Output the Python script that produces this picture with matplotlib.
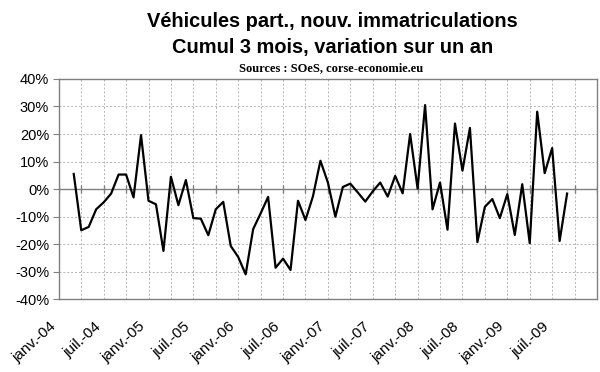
import pandas as pd
import matplotlib
matplotlib.use("Agg")
import matplotlib.pyplot as plt
from matplotlib.ticker import FuncFormatter
from matplotlib.transforms import ScaledTranslation

# variation sur un an (%), cumul 3 mois, de mars 2004 a sept. 2009
start_month = "2004-03"
values = [5.5, -14.9, -13.7, -7.3, -4.8, -1.6, 5.3, 5.3, -3, 19.6,
          -4.2, -5.5, -22.4, 4.5, -5.8, 3.3, -10.5, -10.7, -16.7, -7.3,
          -4.6, -20.6, -24.6, -30.9, -14.5, -8.8, -2.8, -28.5, -25.2, -29.3,
          -4.2, -11.2, -2.6, 10.3, 2.4, -10, 0.8, 2, -1.2, -4.5,
          -0.8, 2.4, -2.7, 4.8, -1.5, 20, 0.2, 30.5, -7.3, 2.4,
          -14.7, 23.8, 6.7, 22.2, -19.2, -6.4, -3.6, -10.5, -1.8, -16.6,
          1.8, -19.6, 28.1, 5.8, 14.9, -18.8, -1.6]

tick_labels = ["janv.-04", "juil.-04", "janv.-05", "juil.-05", "janv.-06", "juil.-06",
               "janv.-07", "juil.-07", "janv.-08", "juil.-08", "janv.-09", "juil.-09"]

title_1 = "Véhicules part., nouv. immatriculations"
title_2 = "Cumul 3 mois, variation sur un an"
source = "Sources : SOeS, corse-economie.eu"


def main():
    periods = pd.period_range(start_month, periods=len(values), freq="M")
    x = [(p.year - 2004) * 12 + p.month - 1 for p in periods]

    plt.rcParams["font.family"] = ["Liberation Sans", "DejaVu Sans"]
    fig = plt.figure(figsize=(6, 3.72), dpi=100)
    ax = fig.add_axes([0.098, 0.195, 0.897, 0.593])

    grid = "#b4b4b4"
    border = "#808080"
    minor = list(range(0, 73, 3))
    for m in minor:
        ax.axvline(m, color=grid, lw=0.7, ls=(0, (2, 2)), zorder=1)
    for v in range(-30, 40, 10):
        if v != 0:
            ax.axhline(v, color=grid, lw=0.7, ls=(0, (2, 2)), zorder=1)
    ax.axhline(0, color=border, lw=1.0, zorder=2)
    ax.plot(minor, [0] * len(minor), ls="none", marker="|", ms=6, mew=1.0,
            color=border, zorder=2)

    ax.plot(x, values, color="black", lw=1.6, zorder=3)

    ax.set_xlim(0, 72)
    ax.set_ylim(-40, 40)
    ax.set_yticks(range(-40, 41, 10))
    ax.yaxis.set_major_formatter(FuncFormatter(lambda v, p: "%d%%" % v))
    ax.set_xticks(range(0, 67, 6))
    ax.set_xticklabels(tick_labels, rotation=42, ha="right", va="center",
                       rotation_mode="anchor", fontsize=11)
    ax.tick_params(axis="x", length=0, pad=18)
    shift = ScaledTranslation(-5 / 100, 0, fig.dpi_scale_trans)
    for lab in ax.get_xticklabels():
        lab.set_transform(lab.get_transform() + shift)
    ax.tick_params(axis="y", length=4, color=border, labelsize=10.5, pad=3)
    for s in ax.spines.values():
        s.set_color(border)
        s.set_linewidth(1.0)

    fig.text(0.554, 0.9266, title_1, ha="center", va="baseline", fontsize=14.4,
             fontweight="bold")
    fig.text(0.554, 0.8567, title_2, ha="center", va="baseline", fontsize=14.4,
             fontweight="bold")
    fig.text(0.552, 0.810, source, ha="center", va="baseline", fontsize=9,
             fontweight="bold", family=["Liberation Serif", "DejaVu Serif"])

    fig.savefig("out.png", dpi=100, facecolor="white")


if __name__ == "__main__":
    main()
